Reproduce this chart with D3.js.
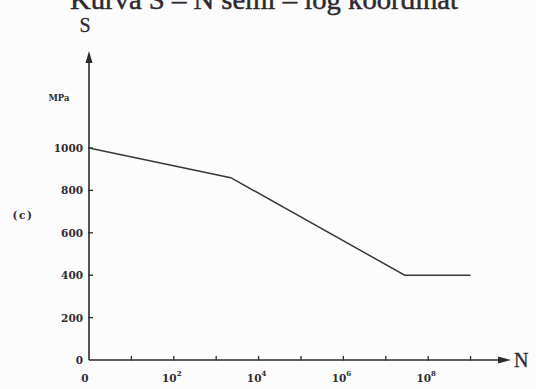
<!DOCTYPE html>
<html>
<head>
<meta charset="utf-8">
<script src="https://cdn.jsdelivr.net/npm/d3@7"></script>
<style>
  html, body { margin: 0; padding: 0; background: #fdfcfd; }
  svg { display: block; }
</style>
</head>
<body>
<svg id="chart" width="536" height="389"></svg>
<script>
// S–N curve (semi-log): stress S in MPa against cycles N
const cycles = [1, 2.2e3, 2.8e7, 1e9];
const stress = [1000, 860, 400, 400];
const yTicks = [0, 200, 400, 600, 800, 1000];
const xTickExps = [0, 1, 2, 3, 4, 5, 6, 7, 8, 9];
const xLabelExps = [0, 2, 4, 6, 8];

const titleText = "Kurva S – N semi – log koordinat";
const ink = "#2e2a30";
const serif = "Liberation Serif, serif";
const labelFont = "DejaVu Serif, serif";

const svg = d3.select("#chart");

const x = d3.scaleLog().domain([1, Math.pow(10, 9.93)]).range([89, 510]);
const y = d3.scaleLinear().domain([0, 1000]).range([360, 148]);

// title (runs off the top edge)
svg.append("text")
  .attr("x", 264).attr("y", 9)
  .attr("text-anchor", "middle")
  .attr("font-family", serif)
  .attr("font-size", 28)
  .attr("textLength", 388)
  .attr("lengthAdjust", "spacingAndGlyphs")
  .attr("fill", ink)
  .attr("stroke", ink).attr("stroke-width", 0.5)
  .text(titleText);

// axes
const y0 = y(0), x0 = x(1);
svg.append("line").attr("x1", x0).attr("y1", y0).attr("x2", x0).attr("y2", 58)
  .attr("stroke", ink).attr("stroke-width", 1.6);
svg.append("path")
  .attr("d", `M${x0},51 L${x0 - 3.5},63 L${x0 + 3.5},63 Z`)
  .attr("fill", ink);
svg.append("line").attr("x1", x0).attr("y1", y0).attr("x2", 503).attr("y2", y0)
  .attr("stroke", ink).attr("stroke-width", 1.6);
svg.append("path")
  .attr("d", `M511,${y0} L498,${y0 - 3.5} L498,${y0 + 3.5} Z`)
  .attr("fill", ink);

// y ticks and labels
const yg = svg.append("g");
yg.selectAll("line").data(yTicks.filter(d => d > 0)).join("line")
  .attr("x1", x0 - 1).attr("x2", x0 + 4)
  .attr("y1", d => y(d)).attr("y2", d => y(d))
  .attr("stroke", ink).attr("stroke-width", 1.3);
yg.selectAll("text").data(yTicks).join("text")
  .attr("x", 83).attr("y", d => y(d) + 4)
  .attr("text-anchor", "end")
  .attr("font-family", labelFont)
  .attr("font-weight", "bold")
  .attr("font-size", 10.5)
  .attr("fill", ink)
  .text(d => d);

// x ticks
svg.append("g").selectAll("line").data(xTickExps.filter(e => e > 0)).join("line")
  .attr("x1", e => x(Math.pow(10, e))).attr("x2", e => x(Math.pow(10, e)))
  .attr("y1", y0 - 4).attr("y2", y0 + 0.5)
  .attr("stroke", ink).attr("stroke-width", 1.3);

// x labels: "0" at the origin, then powers of ten
const xl = svg.append("g").selectAll("text").data(xLabelExps).join("text")
  .attr("x", e => x(Math.pow(10, e)) - (e === 0 ? 4 : 2))
  .attr("y", 382)
  .attr("text-anchor", "middle")
  .attr("font-family", labelFont)
  .attr("font-weight", "bold")
  .attr("font-size", 10.5)
  .attr("fill", ink);
xl.each(function(e) {
  const t = d3.select(this);
  if (e === 0) { t.text("0"); return; }
  t.append("tspan").text("10");
  t.append("tspan").attr("dy", -6).attr("font-size", 7).text(e);
});

// axis names
svg.append("text").attr("x", 85).attr("y", 32).attr("text-anchor", "middle")
  .attr("font-family", serif).attr("font-size", 20)
  .attr("fill", ink).attr("stroke", ink).attr("stroke-width", 0.3).text("S");
svg.append("text").attr("x", 514).attr("y", 367)
  .attr("font-family", serif).attr("font-size", 20)
  .attr("fill", ink).attr("stroke", ink).attr("stroke-width", 0.3).text("N");
svg.append("text").attr("x", 59).attr("y", 101).attr("text-anchor", "middle")
  .attr("font-family", labelFont).attr("font-weight", "bold")
  .attr("font-size", 8.5).attr("fill", ink).text("MPa");
svg.append("text").attr("x", 23).attr("y", 219).attr("text-anchor", "middle")
  .attr("font-family", labelFont).attr("font-weight", "bold")
  .attr("font-size", 10.5).attr("letter-spacing", 1.5).attr("fill", ink).text("(c)");

// curve
const pts = cycles.map((n, i) => [n, stress[i]]);
svg.append("path")
  .datum(pts)
  .attr("fill", "none")
  .attr("stroke", "#3a363c")
  .attr("stroke-width", 1.5)
  .attr("d", d3.line().x(d => x(d[0])).y(d => y(d[1])));
</script>
</body>
</html>
